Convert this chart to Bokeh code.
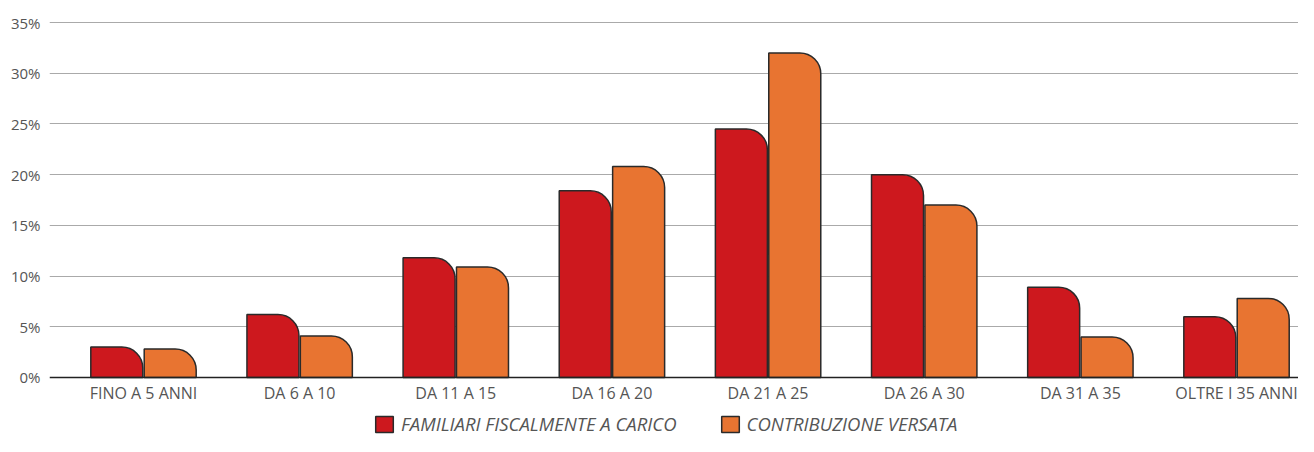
from bokeh.plotting import figure
from bokeh.models import Range1d, FixedTicker, Legend, LegendItem, ColumnDataSource
from bokeh.embed import file_html
from bokeh.resources import INLINE

categories = ["FINO A 5 ANNI", "DA 6 A 10", "DA 11 A 15", "DA 16 A 20",
              "DA 21 A 25", "DA 26 A 30", "DA 31 A 35", "OLTRE I 35 ANNI"]
familiari = [3.0, 6.2, 11.8, 18.4, 24.5, 20.0, 8.9, 6.0]
contribuzione = [2.8, 4.1, 10.9, 20.8, 32.0, 17.0, 4.0, 7.8]
series_names = ["FAMILIARI FISCALMENTE A CARICO", "CONTRIBUZIONE VERSATA"]
y_ticks = [0, 5, 10, 15, 20, 25, 30, 35]
y_labels = ["0%", "5%", "10%", "15%", "20%", "25%", "30%", "35%"]

RED = "#CD181E"
ORANGE = "#E87431"
EDGE = "#2a2a2a"
FONT = "Open Sans"

idx = list(range(len(categories)))
offset = 0.171
bw = 0.333

src = ColumnDataSource(dict(
    x1=[i - offset for i in idx],
    x2=[i + offset for i in idx],
    fam=familiari,
    con=contribuzione,
))

p = figure(width=1298, height=436, output_backend="svg", toolbar_location=None,
           x_range=Range1d(-0.602, 7.397), y_range=Range1d(-5.817, 35.296),
           min_border_left=49, min_border_right=0, min_border_top=19,
           min_border_bottom=0)
p.outline_line_color = None
p.background_fill_color = "white"

r1 = p.vbar(x="x1", top="fam", bottom=0, width=bw, source=src, fill_color=RED,
            line_color=EDGE, line_width=1.5, border_radius=(0, 21, 0, 0))
r2 = p.vbar(x="x2", top="con", bottom=0, width=bw, source=src, fill_color=ORANGE,
            line_color=EDGE, line_width=1.5, border_radius=(0, 21, 0, 0))

# x axis drawn at y = 0
p.xaxis.fixed_location = 0
p.xaxis.ticker = FixedTicker(ticks=idx)
p.xaxis.major_label_overrides = {i: c for i, c in zip(idx, categories)}
p.xaxis.major_tick_line_color = None
p.xaxis.major_tick_out = 0
p.xaxis.major_tick_in = 0
p.xaxis.minor_tick_line_color = None
p.xaxis.axis_line_color = "#222222"
p.xaxis.axis_line_width = 1.5
p.xaxis.major_label_standoff = 5
p.xaxis.major_label_text_font = FONT
p.xaxis.major_label_text_font_size = "16px"
p.xaxis.major_label_text_color = "#555555"

p.yaxis.ticker = FixedTicker(ticks=y_ticks)
p.yaxis.major_label_overrides = {t: l for t, l in zip(y_ticks, y_labels)}
p.yaxis.major_tick_line_color = None
p.yaxis.major_tick_out = 0
p.yaxis.major_tick_in = 0
p.yaxis.minor_tick_line_color = None
p.yaxis.axis_line_color = None
p.yaxis.major_label_standoff = 9
p.yaxis.major_label_text_font = FONT
p.yaxis.major_label_text_font_size = "15px"
p.yaxis.major_label_text_color = "#555555"

p.xgrid.grid_line_color = None
p.ygrid.ticker = FixedTicker(ticks=y_ticks[1:])
p.ygrid.grid_line_color = "#aaaaaa"
p.ygrid.grid_line_width = 1.2

legend = Legend(items=[LegendItem(label=series_names[0], renderers=[r1]),
                       LegendItem(label=series_names[1], renderers=[r2])],
                orientation="horizontal", location=(324, 0),
                padding=0, margin=0, spacing=42, label_standoff=6,
                glyph_width=22, glyph_height=20,
                label_text_font=FONT, label_text_font_size="18.5px",
                label_text_font_style="italic", label_text_color="#555555",
                border_line_color=None, background_fill_alpha=0)
p.add_layout(legend, "center")

open("out.html", "w").write(file_html(p, INLINE))
